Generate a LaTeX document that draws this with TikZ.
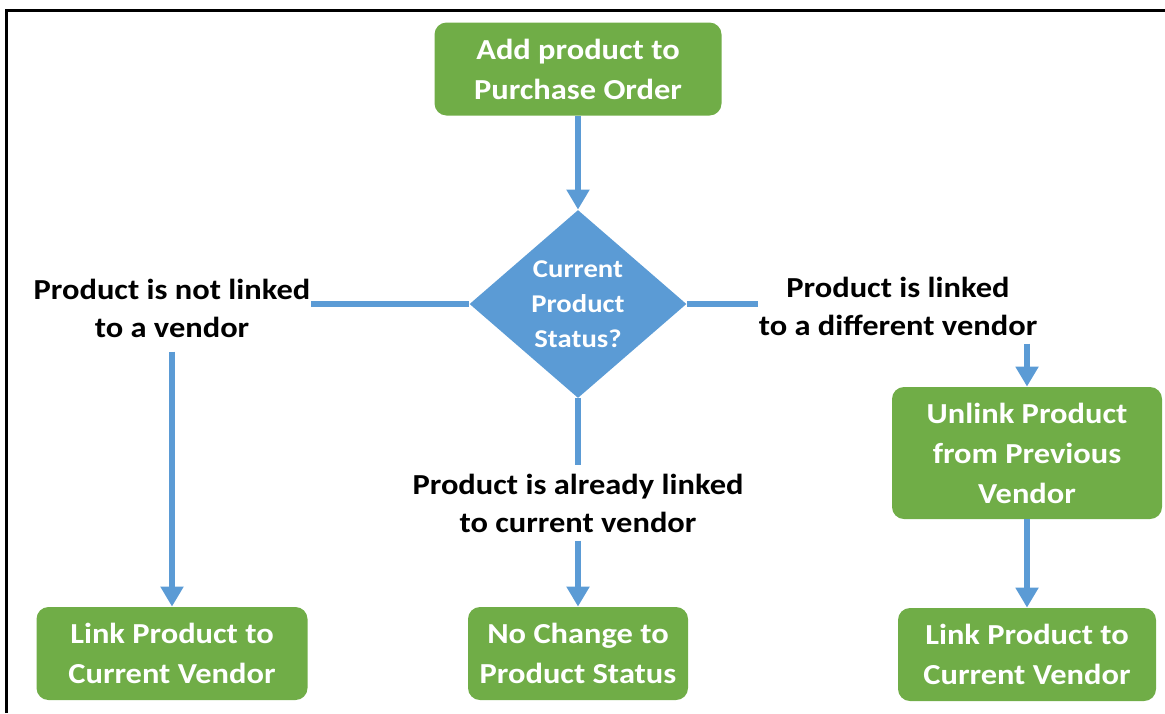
\documentclass[tikz,border=0pt]{standalone}
\usepackage{fontspec}
\setmainfont{Carlito}[FakeStretch=1.12]
\usetikzlibrary{positioning,shapes.geometric,arrows.meta}

\definecolor{boxgreen}{HTML}{70AD47}
\definecolor{flowblue}{HTML}{5B9BD5}

\begin{document}
\begin{tikzpicture}[
  >={Triangle[width=11pt,length=10pt]},
  on grid,
  box/.style={rectangle,rounded corners=6pt,fill=boxgreen,text=white,
    align=center,minimum height=46.5pt,
    font=\bfseries\fontsize{14.5pt}{20pt}\selectfont},
  decision/.style={diamond,fill=flowblue,text=white,align=center,
    inner sep=0pt,shape aspect=1.15,minimum width=108.5pt,minimum height=94pt,
    font=\bfseries\fontsize{12.8pt}{17.5pt}\selectfont},
  cond/.style={align=center,inner xsep=0pt,inner ysep=4pt,
    font=\bfseries\fontsize{14.5pt}{19pt}\selectfont},
  flow/.style={draw=flowblue,line width=2.75pt},
  frame/.style={draw=black,line width=1.5pt}
]
  \useasboundingbox (0,0) rectangle (582.5pt,-356.5pt);
  \draw[frame] (3pt,-356.5pt) -- (3pt,-5pt) -- (582.5pt,-5pt);

  \node[box,minimum width=143.5pt] (add) at (289pt,-34.5pt) {Add product to\\Purchase Order};
  \node[decision,below=117.5pt of add] (status) {Current\\Product\\Status?};

  % the three outcomes of the check
  \node[cond,below left=2pt and 203pt of status] (notlinked) {Product is not linked\\to a vendor};
  \node[cond,below=99.5pt of status] (samelinked) {Product is already linked\\to current vendor};
  \node[cond,below right=1pt and 160pt of status] (difflinked) {Product is linked\\to a different vendor};

  \node[box,minimum width=135.5pt,below=172.75pt of notlinked] (linkfirst) {Link Product to\\Current Vendor};
  \node[box,minimum width=110pt,below=75.25pt of samelinked] (nochange) {No Change to\\Product Status};
  \node[box,minimum width=135pt,minimum height=66pt,below right=73.5pt and 64.5pt of difflinked] (unlink) {Unlink Product\\from Previous\\Vendor};
  \node[box,minimum width=129pt,below=100.75pt of unlink] (linkafter) {Link Product to\\Current Vendor};

  \draw[flow,->] (add) -- (status);
  \draw[flow] (status.west) -- (status.west -| notlinked.east);
  \draw[flow] (status.east) -- (status.east -| difflinked.west);
  \draw[flow] (status) -- (samelinked);
  \draw[flow,->,shorten <=3pt] (notlinked) -- (linkfirst);
  \draw[flow,->] (samelinked) -- (nochange);
  \draw[flow,->] (difflinked.south -| unlink.north) -- (unlink);
  \draw[flow,->] (unlink) -- (linkafter);
\end{tikzpicture}
\end{document}
